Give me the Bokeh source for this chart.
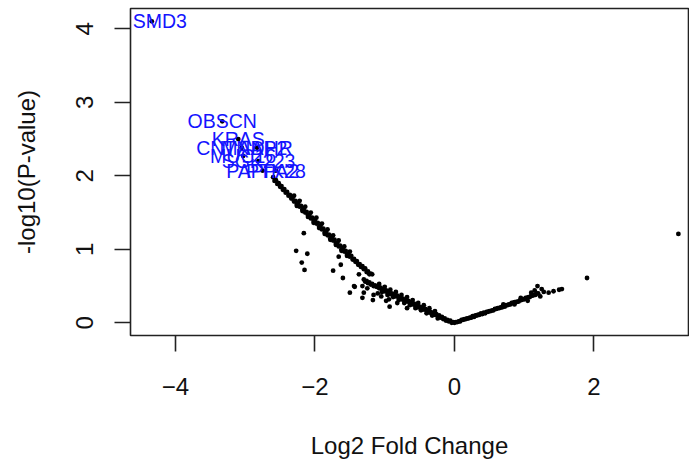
from bokeh.plotting import figure
from bokeh.models import Range1d, FixedTicker, ColumnDataSource
from bokeh.core.properties import value
from bokeh.embed import file_html
from bokeh.resources import INLINE

# ---- data ----
# main descending band (left side)
band_x = [-2.60, -2.56, -2.52, -2.48, -2.44, -2.40, -2.36, -2.32, -2.28, -2.24,
          -2.20, -2.16, -2.12, -2.08, -2.04, -2.00, -1.96, -1.92, -1.88, -1.84,
          -1.80, -1.76, -1.72, -1.68, -1.64, -1.60, -1.56, -1.52, -1.48, -1.44,
          -1.40, -1.36, -1.32, -1.28, -1.24, -1.20, -1.18,
          -2.30, -2.22, -2.14, -2.06, -1.98, -1.90, -1.82, -1.74, -1.66, -1.58, -1.50,
          -2.26, -2.18, -2.10, -2.02, -1.94, -1.86, -1.78, -1.70, -1.62, -1.54,
          -2.58, -2.54, -2.50, -2.46, -2.42, -2.38, -2.34, -2.30, -2.26, -2.22,
          -2.18, -2.14, -2.10, -2.06, -2.02, -1.98, -1.94, -1.90, -1.86, -1.82,
          -1.78, -1.74, -1.70, -1.66, -1.62, -1.58, -1.54, -1.50, -1.46, -1.42,
          -1.38, -1.34, -1.30, -1.26, -1.22]
band_y = [1.98, 1.94, 1.90, 1.86, 1.82, 1.78, 1.74, 1.70, 1.66, 1.63,
          1.59, 1.55, 1.51, 1.47, 1.43, 1.40, 1.36, 1.32, 1.28, 1.24,
          1.20, 1.16, 1.13, 1.09, 1.05, 1.01, 0.98, 0.94, 0.91, 0.87,
          0.84, 0.80, 0.77, 0.74, 0.70, 0.67, 0.66,
          1.73, 1.66, 1.58, 1.50, 1.43, 1.35, 1.27, 1.19, 1.12, 1.04, 0.97,
          1.59, 1.52, 1.44, 1.36, 1.29, 1.21, 1.13, 1.06, 0.98, 0.91,
          1.93, 1.89, 1.85, 1.81, 1.77, 1.73, 1.69, 1.65, 1.61, 1.58,
          1.54, 1.50, 1.46, 1.42, 1.39, 1.35, 1.31, 1.27, 1.23, 1.19,
          1.15, 1.12, 1.08, 1.04, 1.00, 0.97, 0.93, 0.90, 0.86, 0.83,
          0.79, 0.76, 0.73, 0.69, 0.66]

# lower branch toward zero
low_x = [-1.30, -1.26, -1.22, -1.18, -1.14, -1.10, -1.06, -1.02, -0.98, -0.94,
         -0.90, -0.86, -0.82, -0.78, -0.74, -0.70, -0.66, -0.62, -0.58, -0.54,
         -0.50, -0.46, -0.42, -0.38, -0.34, -0.30, -0.26, -0.22, -0.18, -0.14,
         -0.10, -0.06, -0.02, 0.00,
         -1.08, -1.00, -0.92, -0.84, -0.76, -0.68, -0.60, -0.52, -0.44, -0.36, -0.28,
         -1.04, -0.96, -0.88, -0.80, -0.72, -0.64, -0.56, -0.48, -0.40, -0.32, -0.24,
         -1.28, -1.24, -1.20, -1.16, -1.12, -1.08, -1.04, -1.00, -0.96, -0.92,
         -0.88, -0.84, -0.80, -0.76, -0.72, -0.68, -0.64, -0.60, -0.56, -0.52,
         -0.48, -0.44, -0.40, -0.36, -0.32, -0.28, -0.24, -0.20, -0.16, -0.12,
         -0.08, -0.04]
low_y = [0.59, 0.57, 0.55, 0.53, 0.51, 0.50, 0.48, 0.46, 0.44, 0.42,
         0.40, 0.39, 0.37, 0.35, 0.33, 0.31, 0.30, 0.28, 0.26, 0.24,
         0.22, 0.21, 0.19, 0.17, 0.15, 0.13, 0.12, 0.10, 0.08, 0.06,
         0.04, 0.03, 0.01, 0.00,
         0.53, 0.49, 0.45, 0.42, 0.38, 0.35, 0.31, 0.27, 0.24, 0.20, 0.16,
         0.42, 0.38, 0.35, 0.31, 0.27, 0.24, 0.20, 0.17, 0.13, 0.10, 0.06,
         0.56, 0.54, 0.52, 0.50, 0.49, 0.47, 0.45, 0.43, 0.41, 0.39,
         0.38, 0.36, 0.34, 0.32, 0.30, 0.29, 0.27, 0.25, 0.23, 0.21,
         0.20, 0.18, 0.16, 0.14, 0.12, 0.11, 0.09, 0.07, 0.05, 0.03,
         0.02, 0.00]

# right branch (positive fold change)
up_x = [0.04, 0.08, 0.12, 0.16, 0.20, 0.24, 0.28, 0.32, 0.36, 0.40,
        0.44, 0.48, 0.52, 0.56, 0.60, 0.64, 0.68, 0.72, 0.76, 0.80,
        0.84, 0.88, 0.92, 0.96, 1.00, 1.04, 1.08, 1.12, 1.16, 1.20,
        0.02, 0.06, 0.10, 0.14, 0.18, 0.22, 0.26, 0.30, 0.34, 0.38,
        0.42, 0.46, 0.50, 0.54, 0.58, 0.62, 0.66, 0.70, 0.74, 0.78,
        0.82, 0.86, 0.90, 0.94, 0.98, 1.02, 1.06, 1.10, 1.14, 1.18,
        0.70, 0.86, 0.95, 1.05, 1.10, 1.15, 1.19, 1.23, 1.25, 1.28,
        1.35, 1.42, 1.50, 1.54, 1.90, 3.21]
up_y = [0.01, 0.02, 0.04, 0.05, 0.06, 0.07, 0.08, 0.10, 0.11, 0.12,
        0.13, 0.15, 0.16, 0.17, 0.19, 0.20, 0.21, 0.22, 0.24, 0.25,
        0.27, 0.28, 0.29, 0.31, 0.32, 0.34, 0.35, 0.37, 0.38, 0.40,
        0.01, 0.02, 0.04, 0.05, 0.06, 0.07, 0.09, 0.10, 0.11, 0.13,
        0.14, 0.15, 0.16, 0.17, 0.19, 0.20, 0.21, 0.23, 0.24, 0.25,
        0.27, 0.28, 0.29, 0.31, 0.32, 0.34, 0.35, 0.37, 0.38, 0.40,
        0.25, 0.25, 0.34, 0.30, 0.41, 0.44, 0.50, 0.36, 0.46, 0.42,
        0.41, 0.43, 0.45, 0.46, 0.61, 1.21]

# scattered points below the main band
scat_x = [-2.16, -2.27, -2.11, -2.19, -2.15, -1.66, -1.63, -1.74, -1.60, -1.37,
          -1.43, -1.50, -1.32, -1.30, -1.32, -1.16, -1.44, -1.17, -0.94, -0.93,
          -0.82, -0.68, -1.25, -1.10, -1.05, -0.98]
scat_y = [1.22, 0.98, 0.94, 0.82, 0.72, 0.90, 0.79, 0.71, 0.61, 0.66,
          0.49, 0.41, 0.50, 0.41, 0.34, 0.38, 0.50, 0.31, 0.32, 0.22,
          0.27, 0.20, 0.47, 0.40, 0.36, 0.30]

# labelled genes
top_name = ["SMD3"]
top_x = [-4.34]
top_y = [4.10]
gene_names = ["OBSCN", "KRAS", "CNTNAP2", "MADHR", "MUC16", "SGK223", "PAPPA2", "PTK28"]
gene_x = [-3.33, -3.10, -3.05, -2.83, -3.03, -2.81, -2.75, -2.56]
gene_y = [2.74, 2.50, 2.38, 2.38, 2.27, 2.20, 2.07, 2.07]

x_ticks = [-4, -2, 0, 2]
y_ticks = [0, 1, 2, 3, 4]

all_x = band_x + low_x + up_x + scat_x + top_x + gene_x
all_y = band_y + low_y + up_y + scat_y + top_y + gene_y

FONT = "Liberation Sans"
BLUE = "#1414ff"

p = figure(width=689, height=461, output_backend="svg", toolbar_location=None,
           x_range=Range1d(-4.645, 3.355), y_range=Range1d(-0.172, 4.275))
p.min_border_left = 130
p.min_border_right = 1
p.min_border_top = 8
p.min_border_bottom = 125
p.background_fill_color = "white"
p.border_fill_color = "white"
p.outline_line_color = "#222222"
p.outline_line_width = 1.6
p.xgrid.visible = False
p.ygrid.visible = False

p.scatter(all_x, all_y, size=4.8, marker="circle", fill_color="black", line_color=None)

src = ColumnDataSource(dict(x=gene_x, y=gene_y, t=gene_names))
p.text(x="x", y="y", text="t", source=src, text_font=value(FONT), text_font_size="19.5px",
       text_color=BLUE, text_align="center", text_baseline="middle")
src_top = ColumnDataSource(dict(x=top_x, y=top_y, t=top_name))
p.text(x="x", y="y", text="t", source=src_top, text_font=value(FONT), text_font_size="19.5px",
       text_color=BLUE, text_align="center", text_baseline="middle", x_offset=8)

for ax in (p.xaxis[0], p.yaxis[0]):
    ax.axis_line_color = None
    ax.major_tick_line_color = "#222222"
    ax.major_tick_line_width = 1.6
    ax.major_tick_in = 0
    ax.major_tick_out = 16
    ax.minor_tick_line_color = None
    ax.major_label_text_font = FONT
    ax.major_label_text_font_size = "24px"
    ax.major_label_text_color = "#111111"
    ax.axis_label_text_font = FONT
    ax.axis_label_text_font_size = "24px"
    ax.axis_label_text_font_style = "normal"
    ax.axis_label_text_color = "#111111"

p.xaxis.ticker = FixedTicker(ticks=x_ticks)
p.yaxis.ticker = FixedTicker(ticks=y_ticks)
p.xaxis.axis_label = "Log2 Fold Change"
p.yaxis.axis_label = "-log10(P-value)"
p.xaxis.major_label_standoff = 26
p.xaxis.axis_label_standoff = 34
p.yaxis.major_label_orientation = "vertical"
p.yaxis.major_label_standoff = 21
p.yaxis.axis_label_standoff = 34

open("out.html", "w").write(file_html(p, INLINE))
